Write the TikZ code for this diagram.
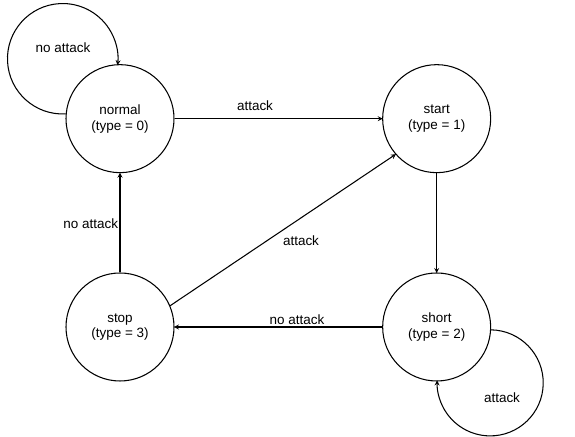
\documentclass[tikz,border=0pt]{standalone}
\usepackage{fontspec}
\setmainfont{Liberation Sans}
\usetikzlibrary{arrows}
\begin{document}
\begin{tikzpicture}[thick, font=\fontsize{11.5}{13.5}\selectfont]
  % Define styles
  \tikzstyle{state} = [circle, draw, line width=0.9pt, minimum size=3.24cm, inner sep=0pt, align=center]
  \tikzstyle{arrow} = [line width=0.9pt, ->, >=stealth, shorten >=-0.5pt]
  \tikzstyle{lbl} = [inner sep=1pt]

  \useasboundingbox (0, 0) rectangle (17.25, 13.11);

  % States
  \node[state] (normal) at (3.6, 9.55) {normal\\(type = 0)};
  \node[state] (start) at (13.1, 9.55) {start\\(type = 1)};
  \node[state] (short) at (13.1, 3.3) {short\\(type = 2)};
  \node[state] (stop) at (3.6, 3.3) {stop\\(type = 3)};

  % Transitions
  \draw[arrow] (normal) -- (start);
  \draw[arrow] (start) -- (short);
  \draw[arrow] (short) -- (stop);
  \draw[arrow] (stop) -- (normal);
  \draw[arrow] (stop.23) -- (start.221);

  % Self loops
  \draw[arrow] (normal.175) arc[start angle=273.1, end angle=-6.1, radius=1.657];
  \draw[arrow] (short.-3) arc[start angle=89, end angle=-182, radius=1.591];

  % Labels
  \node[lbl] (lnormal) at (1.89, 11.67) {no attack};
  \node[lbl] (lstart) at (7.65, 9.93) {attack};
  \node[lbl] (lback) at (2.72, 6.39) {no attack};
  \node[lbl] (ldiag) at (9.03, 5.88) {attack};
  \node[lbl] (lstop) at (8.91, 3.51) {no attack};
  \node[lbl] (lshort) at (15.06, 1.17) {attack};

\end{tikzpicture}
\end{document}
